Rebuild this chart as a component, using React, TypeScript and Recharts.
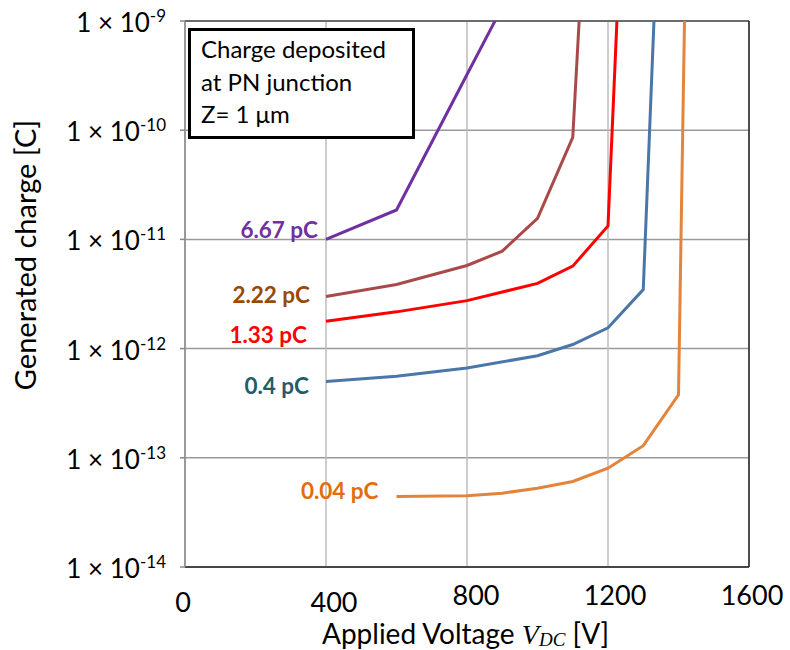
import React from "react";
import { LineChart, Line, XAxis, YAxis, CartesianGrid, ReferenceLine } from "recharts";

// ---- data ----
const xTicks = [0, 400, 800, 1200, 1600];
const yTicks = [1e-14, 1e-13, 1e-12, 1e-11, 1e-10, 1e-9];
const yExponents = ["-14", "-13", "-12", "-11", "-10", "-9"];

const seriesNames = ["6.67 pC", "2.22 pC", "1.33 pC", "0.4 pC", "0.04 pC"];

const v667 = [400, 600, 800, 900];
const q667 = [1.0e-11, 1.86e-11, 3.24e-10, 1.34e-9];

const v222 = [400, 600, 800, 900, 1000, 1100, 1130];
const q222 = [3.0e-12, 3.86e-12, 5.77e-12, 7.8e-12, 1.56e-11, 8.6e-11, 5.0e-9];

const v133 = [400, 600, 800, 1000, 1100, 1200, 1240];
const q133 = [1.78e-12, 2.17e-12, 2.75e-12, 3.95e-12, 5.69e-12, 1.33e-11, 1.23e-8];

const v04 = [400, 600, 800, 1000, 1100, 1200, 1300, 1340];
const q04 = [5.0e-13, 5.57e-13, 6.65e-13, 8.6e-13, 1.09e-12, 1.55e-12, 3.47e-12, 6.0e-9];

const v004 = [600, 800, 900, 1000, 1100, 1200, 1300, 1400, 1420];
const q004 = [4.42e-14, 4.5e-14, 4.74e-14, 5.27e-14, 6.07e-14, 8.04e-14, 1.29e-13, 3.78e-13, 4.0e-9];

const legendLines = ["Charge deposited", "at PN junction", "Z= 1 \u03bcm"];

const toRows = (vs: number[], qs: number[]) => vs.map((v, i) => ({ v, q: qs[i] }));

const FONT = "Lato, 'Open Sans', sans-serif";

// ---- styles ----
const seriesStyle = [
  { line: "#7030A0", text: "#7030A0", dx: -8, dy: -1 },
  { line: "#A94A4A", text: "#984807", dx: -16, dy: 7 },
  { line: "#FF0000", text: "#FF0000", dx: -19, dy: 22 },
  { line: "#4A76A8", text: "#245B6B", dx: -17, dy: 13 },
  { line: "#E3843C", text: "#E46C0A", dx: -18, dy: 2 },
];

const xTickOffset: Record<number, { dx: number; y: number }> = {
  0: { dx: -2, y: 612 },
  400: { dx: 8, y: 612 },
  800: { dx: 9, y: 605 },
  1200: { dx: 7, y: 605 },
  1600: { dx: 3, y: 605 },
};

const XTick = (props: any) => {
  const { x, payload } = props;
  const o = xTickOffset[payload.value] || { dx: 0, y: 605 };
  return (
    <text x={x + o.dx} y={o.y} textAnchor="middle" fontSize={27} fill="#000" fontFamily={FONT}>
      {payload.value}
    </text>
  );
};

const YTick = (props: any) => {
  const { x, y, payload } = props;
  const idx = yTicks.indexOf(payload.value);
  const exp = idx >= 0 ? yExponents[idx] : "";
  return (
    <text x={x} y={y + 11} textAnchor="end" fontSize={26} fill="#000" fontFamily={FONT}>
      <tspan>1 × 10</tspan>
      <tspan fontSize={17} dy={-10}>{exp}</tspan>
    </text>
  );
};

const makeLabel = (si: number) => (p: any) => {
  if (p.index !== 0) return null;
  const s = seriesStyle[si];
  return (
    <text
      key={`lbl-${si}`}
      x={p.x + s.dx}
      y={p.y + s.dy}
      textAnchor="end"
      fontSize={22.5}
      fontWeight="bold"
      fill={s.text}
      fontFamily={FONT}
    >
      {seriesNames[si]}
    </text>
  );
};

const seriesData = [
  toRows(v667, q667),
  toRows(v222, q222),
  toRows(v133, q133),
  toRows(v04, q04),
  toRows(v004, q004),
];

export default function App() {
  return (
    <div style={{ position: "absolute", left: 0, top: 0, width: 790, height: 650, background: "#fff", fontFamily: FONT }}>
      <LineChart width={790} height={650} margin={{ top: 21, right: 41, bottom: 0, left: 0 }}>
        <CartesianGrid horizontal={true} vertical={false} stroke="#9a9a9a" strokeWidth={1.5} />
        <CartesianGrid horizontal={false} vertical={true} stroke="#bcbcbc" strokeWidth={1.5} />
        <XAxis
          type="number"
          dataKey="v"
          domain={[0, 1600]}
          ticks={xTicks}
          height={83}
          tickLine={false}
          axisLine={{ stroke: "#222", strokeWidth: 1.5 }}
          tick={<XTick />}
          allowDataOverflow
        />
        <YAxis
          type="number"
          scale="log"
          domain={[1e-14, 1e-9]}
          ticks={yTicks}
          width={185}
          allowDataOverflow
          tickSize={5}
          tickMargin={14}
          tickLine={{ stroke: "#888", strokeWidth: 1.5 }}
          axisLine={{ stroke: "#888", strokeWidth: 1.5 }}
          tick={<YTick />}
        />
        <ReferenceLine y={1e-9} stroke="#555" strokeWidth={1.5} />
        <ReferenceLine x={1600} stroke="#222" strokeWidth={1.5} />
        {seriesData.map((rows, i) => (
          <Line
            key={seriesNames[i]}
            data={rows}
            dataKey="q"
            stroke={seriesStyle[i].line}
            strokeWidth={3}
            dot={false}
            isAnimationActive={false}
            label={makeLabel(i)}
          />
        ))}
      </LineChart>
      <svg
        width={790}
        height={650}
        style={{ position: "absolute", left: 0, top: 0, pointerEvents: "none" }}
      >
        <rect x={189.5} y={29.5} width={224} height={108} fill="#fff" stroke="#000" strokeWidth={3} />
        {legendLines.map((t, i) => (
          <text key={t} x={201} y={58 + i * 32.5} fontSize={24} fill="#000" fontFamily={FONT}>
            {t}
          </text>
        ))}
        <text x={322} y={644} fontSize={28} fill="#000" fontFamily={FONT}>
          Applied Voltage{" "}
          <tspan fontFamily="'Liberation Serif', serif" fontStyle="italic">V</tspan>
          <tspan fontFamily="'Liberation Serif', serif" fontStyle="italic" fontSize={19} dy={2}>DC</tspan>
          <tspan dy={-2}> [V]</tspan>
        </text>
        <text
          transform="translate(36,255) rotate(-90)"
          textAnchor="middle"
          fontSize={29}
          fill="#000"
          fontFamily={FONT}
        >
          Generated charge [C]
        </text>
      </svg>
    </div>
  );
}
